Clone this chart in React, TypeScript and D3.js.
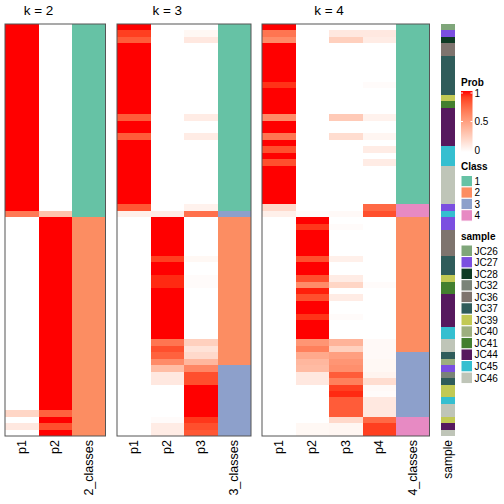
import React from "react";
import * as d3 from "d3";

// ---- data (64 samples, shared row order) ----
const samples: string[] = [
  "JC26","JC27","JC28","JC36","JC36","JC37","JC37","JC37","JC37","JC37","JC37","JC39","JC41",
  "JC44","JC44","JC44","JC44","JC44","JC44","JC45","JC45","JC45","JC46","JC46","JC46","JC46","JC46","JC46",
  "JC27","JC45","JC27","JC27","JC36","JC36","JC36","JC36","JC37","JC37","JC37","JC39","JC41","JC41",
  "JC44","JC44","JC44","JC44","JC44","JC45","JC45","JC46","JC46","JC37","JC40","JC27","JC32","JC37",
  "JC39","JC39","JC45","JC46","JC46","JC39","JC44","JC46",
];

const k2_p1 = [1,1,1,1,1,1,1,1,1,1,1,1,1,1,1,1,1,1,1,1,1,1,1,1,1,1,1,1,1,0.68,
  0,0,0,0,0,0,0,0,0,0,0,0,0,0,0,0,0,0,0,0,0,0,0,0,0,0,0,0,0,0,0.22,0,0.12,0];
const k2_p2 = [0,0,0,0,0,0,0,0,0,0,0,0,0,0,0,0,0,0,0,0,0,0,0,0,0,0,0,0,0,0.32,
  1,1,1,1,1,1,1,1,1,1,1,1,1,1,1,1,1,1,1,1,1,1,1,1,1,1,1,1,1,1,0.78,1,0.85,1];
const k2_class = [1,1,1,1,1,1,1,1,1,1,1,1,1,1,1,1,1,1,1,1,1,1,1,1,1,1,1,1,1,1,
  2,2,2,2,2,2,2,2,2,2,2,2,2,2,2,2,2,2,2,2,2,2,2,2,2,2,2,2,2,2,2,2,2,2];

const k3_p1 = [1,0.9,0.8,1,1,1,1,1,1,1,1,1,1,1,0.8,1,1,0.8,1,1,1,1,1,1,1,1,1,1,0.82,0.08,
  0,0,0,0,0,0,0,0,0,0,0,0,0,0,0,0,0,0,0,0,0,0,0,0,0,0,0,0,0,0,0,0,0,0];
const k3_p2 = [0,0,0,0,0,0,0,0,0,0,0,0,0,0,0,0,0,0,0,0,0,0,0,0,0,0,0,0,0,0.1,
  1,1,1,1,1,1,0.9,1,1,0.95,0.95,1,1,1,1,1,1,1,1,0.7,0.85,0.78,0.6,0.35,0.12,0.12,0,0,0,0,0,0.02,0.1,0.1];
const k3_p3 = [0,0.04,0.12,0,0,0,0,0,0,0,0,0,0,0,0.1,0,0,0.1,0,0,0,0,0,0,0,0,0,0,0.07,0.72,
  0,0,0,0,0,0,0.04,0,0,0.02,0.02,0,0,0,0,0,0,0,0,0.25,0.15,0.2,0.38,0.62,0.85,0.85,1,1,1,1,1,0.92,0.85,0.82];
const k3_class = [1,1,1,1,1,1,1,1,1,1,1,1,1,1,1,1,1,1,1,1,1,1,1,1,1,1,1,1,1,3,
  2,2,2,2,2,2,2,2,2,2,2,2,2,2,2,2,2,2,2,2,2,2,2,3,3,3,3,3,3,3,3,3,3,3];

const k4_p1 = [1,0.7,0.6,1,1,1,1,1,1,0.93,1,1,1,1,0.6,1,1,0.7,1,0.85,1,0.85,1,1,1,1,1,1,0.2,0.08,
  0,0,0,0,0,0,0,0,0,0,0,0,0,0,0,0,0,0,0,0,0,0,0,0,0,0,0,0,0,0,0,0,0,0];
const k4_p2 = [0,0,0,0,0,0,0,0,0,0,0,0,0,0,0,0,0,0,0,0,0,0,0,0,0,0,0,0,0,0.02,
  1,0.92,1,1,1,1,0.85,1,1,0.85,0.6,0.97,0.85,1,1,0.93,1,1,1,0.55,0.65,0.45,0.38,0.36,0.12,0.12,0,0,0,0,0,0,0.04,0.04];
const k4_p3 = [0,0.12,0.25,0,0,0,0,0,0,0,0,0,0,0,0.28,0,0,0.18,0,0,0,0,0,0,0,0,0,0,0,0.03,
  0,0.02,0,0,0,0,0.08,0,0,0.1,0.22,0,0.1,0,0,0.02,0,0,0,0.4,0.25,0.5,0.55,0.58,0.8,0.65,0.9,0.95,0.8,0.8,0.8,0.2,0.05,0.05];
const k4_p4 = [0,0.12,0.1,0,0,0,0,0,0,0.02,0,0,0,0,0.07,0,0,0.05,0,0.1,0,0.1,0,0,0,0,0,0,0.75,0.85,
  0,0,0,0,0,0,0,0,0,0,0.02,0,0,0,0,0,0,0,0,0.03,0.03,0.03,0.04,0.04,0.06,0.18,0.03,0.02,0.12,0.12,0.12,0.75,0.9,0.9];
const k4_class = [1,1,1,1,1,1,1,1,1,1,1,1,1,1,1,1,1,1,1,1,1,1,1,1,1,1,1,1,4,4,
  2,2,2,2,2,2,2,2,2,2,2,2,2,2,2,2,2,2,2,2,2,3,3,3,3,3,3,3,3,3,3,4,4,4];

const classLevels = [1, 2, 3, 4];
const classColors = ["#66C2A5", "#FC8D62", "#8DA0CB", "#E78AC3"];
const sampleLevels = ["JC26","JC27","JC28","JC32","JC36","JC37","JC39","JC40","JC41","JC44","JC45","JC46"];
const sampleColors = ["#7FA67A","#7B4FE0","#0F3B24","#7A8378","#7E746E","#2F5C5A","#C2C954","#9DAF7E","#437F2F","#56195E","#35BFD0","#BFC5B8"];
const probTicks = [0, 0.5, 1];

const panels = [
  { k: 2, probs: [k2_p1, k2_p2], cls: k2_class },
  { k: 3, probs: [k3_p1, k3_p2, k3_p3], cls: k3_class },
  { k: 4, probs: [k4_p1, k4_p2, k4_p3, k4_p4], cls: k4_class },
];

// ---- layout ----
const W = 504, H = 504;
const top = 24, bottom = 436;
const colW = 33.5;
const panelX = [5, 117, 262];
const sampleX = 441, sampleW = 14;
const font = "'Liberation Sans', Arial, Helvetica, sans-serif";

export default function App() {
  const y = d3.scaleBand<number>().domain(d3.range(samples.length)).range([top, bottom]).padding(0);
  const prob = d3.scaleLinear<string>().domain([0, 1]).range(["#FFFFFF", "#FF0000"]).interpolate(d3.interpolateLab);
  const clsColor = d3.scaleOrdinal<number, string>().domain(classLevels).range(classColors);
  const smpColor = d3.scaleOrdinal<string, string>().domain(sampleLevels).range(sampleColors);
  const legY = d3.scaleLinear().domain([0, 1]).range([150, 93]);

  const gradId = "probGrad";

  return (
    <svg width={W} height={H} style={{ position: "absolute", left: 0, top: 0, background: "#fff" }} fontFamily={font}>
      <defs>
        <linearGradient id={gradId} x1="0" y1="1" x2="0" y2="0">
          {d3.range(0, 1.0001, 0.1).map((t) => (
            <stop key={t} offset={t} stopColor={prob(t)} />
          ))}
        </linearGradient>
      </defs>
      {panels.map((p, pi) => {
        const ncol = p.probs.length + 1;
        const x = d3.scaleBand<number>().domain(d3.range(ncol)).range([panelX[pi], panelX[pi] + colW * ncol]).padding(0);
        const bodyCenter = panelX[pi] + (colW * p.probs.length) / 2;
        const labels = p.probs.map((_, j) => `p${j + 1}`).concat([`${p.k}_classes`]);
        return (
          <g key={p.k}>
            <text x={bodyCenter} y={15} textAnchor="middle" fontSize={13.5} fill="#000">{`k = ${p.k}`}</text>
            {p.probs.map((arr, j) =>
              arr.map((v, i) => (
                <rect key={`${j}-${i}`} x={x(j)} y={y(i)} width={x.bandwidth()} height={y.bandwidth() + 0.3}
                  fill={prob(v)} shapeRendering="crispEdges" />
              ))
            )}
            {p.cls.map((c, i) => (
              <rect key={`c-${i}`} x={x(p.probs.length)} y={y(i)} width={x.bandwidth()} height={y.bandwidth() + 0.3}
                fill={clsColor(c)} shapeRendering="crispEdges" />
            ))}
            <rect x={panelX[pi]} y={top} width={colW * ncol} height={bottom - top} fill="none" stroke="#555" strokeWidth={1} />
            {labels.map((l, j) => (
              <text key={l} transform={`translate(${(x(j) as number) + colW / 2},440) rotate(-90)`}
                textAnchor="end" dominantBaseline="central" fontSize={12.5} fill="#000">{l}</text>
            ))}
          </g>
        );
      })}
      {/* sample annotation */}
      {samples.map((s, i) => (
        <rect key={`s-${i}`} x={sampleX} y={y(i)} width={sampleW} height={y.bandwidth() + 0.3}
          fill={smpColor(s)} shapeRendering="crispEdges" />
      ))}
      <text transform={`translate(${sampleX + sampleW / 2},440) rotate(-90)`} textAnchor="end"
        dominantBaseline="central" fontSize={12} fill="#000">sample</text>

      {/* Prob legend */}
      <text x={461} y={86} fontSize={10} fontWeight="bold" fill="#000">Prob</text>
      <rect x={461} y={91} width={11.5} height={61} fill={`url(#${gradId})`} />
      {probTicks.map((t) => (
        <g key={t}>
          {t > 0 && t < 1.01 && (
            <>
              <line x1={461} x2={463} y1={legY(t)} y2={legY(t)} stroke="#fff" strokeWidth={1} />
              <line x1={470.5} x2={472.5} y1={legY(t)} y2={legY(t)} stroke="#fff" strokeWidth={1} />
            </>
          )}
          <text x={474.5} y={legY(t)} dominantBaseline="central" fontSize={10} fill="#000">{t}</text>
        </g>
      ))}

      {/* Class legend */}
      <text x={461} y={170} fontSize={10} fontWeight="bold" fill="#000">Class</text>
      {classLevels.map((c, i) => (
        <g key={c}>
          <rect x={461} y={175.5 + i * 11.4} width={11.5} height={11.4} fill={clsColor(c)} stroke="#fff" strokeWidth={1} />
          <text x={474.5} y={175.5 + i * 11.4 + 5.9} dominantBaseline="central" fontSize={10} fill="#000">{c}</text>
        </g>
      ))}

      {/* sample legend */}
      <text x={461} y={239.5} fontSize={10} fontWeight="bold" fill="#000">sample</text>
      {sampleLevels.map((s, i) => (
        <g key={s}>
          <rect x={461} y={245 + i * 11.55} width={11.5} height={11.55} fill={smpColor(s)} stroke="#fff" strokeWidth={1} />
          <text x={474.5} y={245 + i * 11.55 + 6} dominantBaseline="central" fontSize={10} fill="#000">{s}</text>
        </g>
      ))}
    </svg>
  );
}
